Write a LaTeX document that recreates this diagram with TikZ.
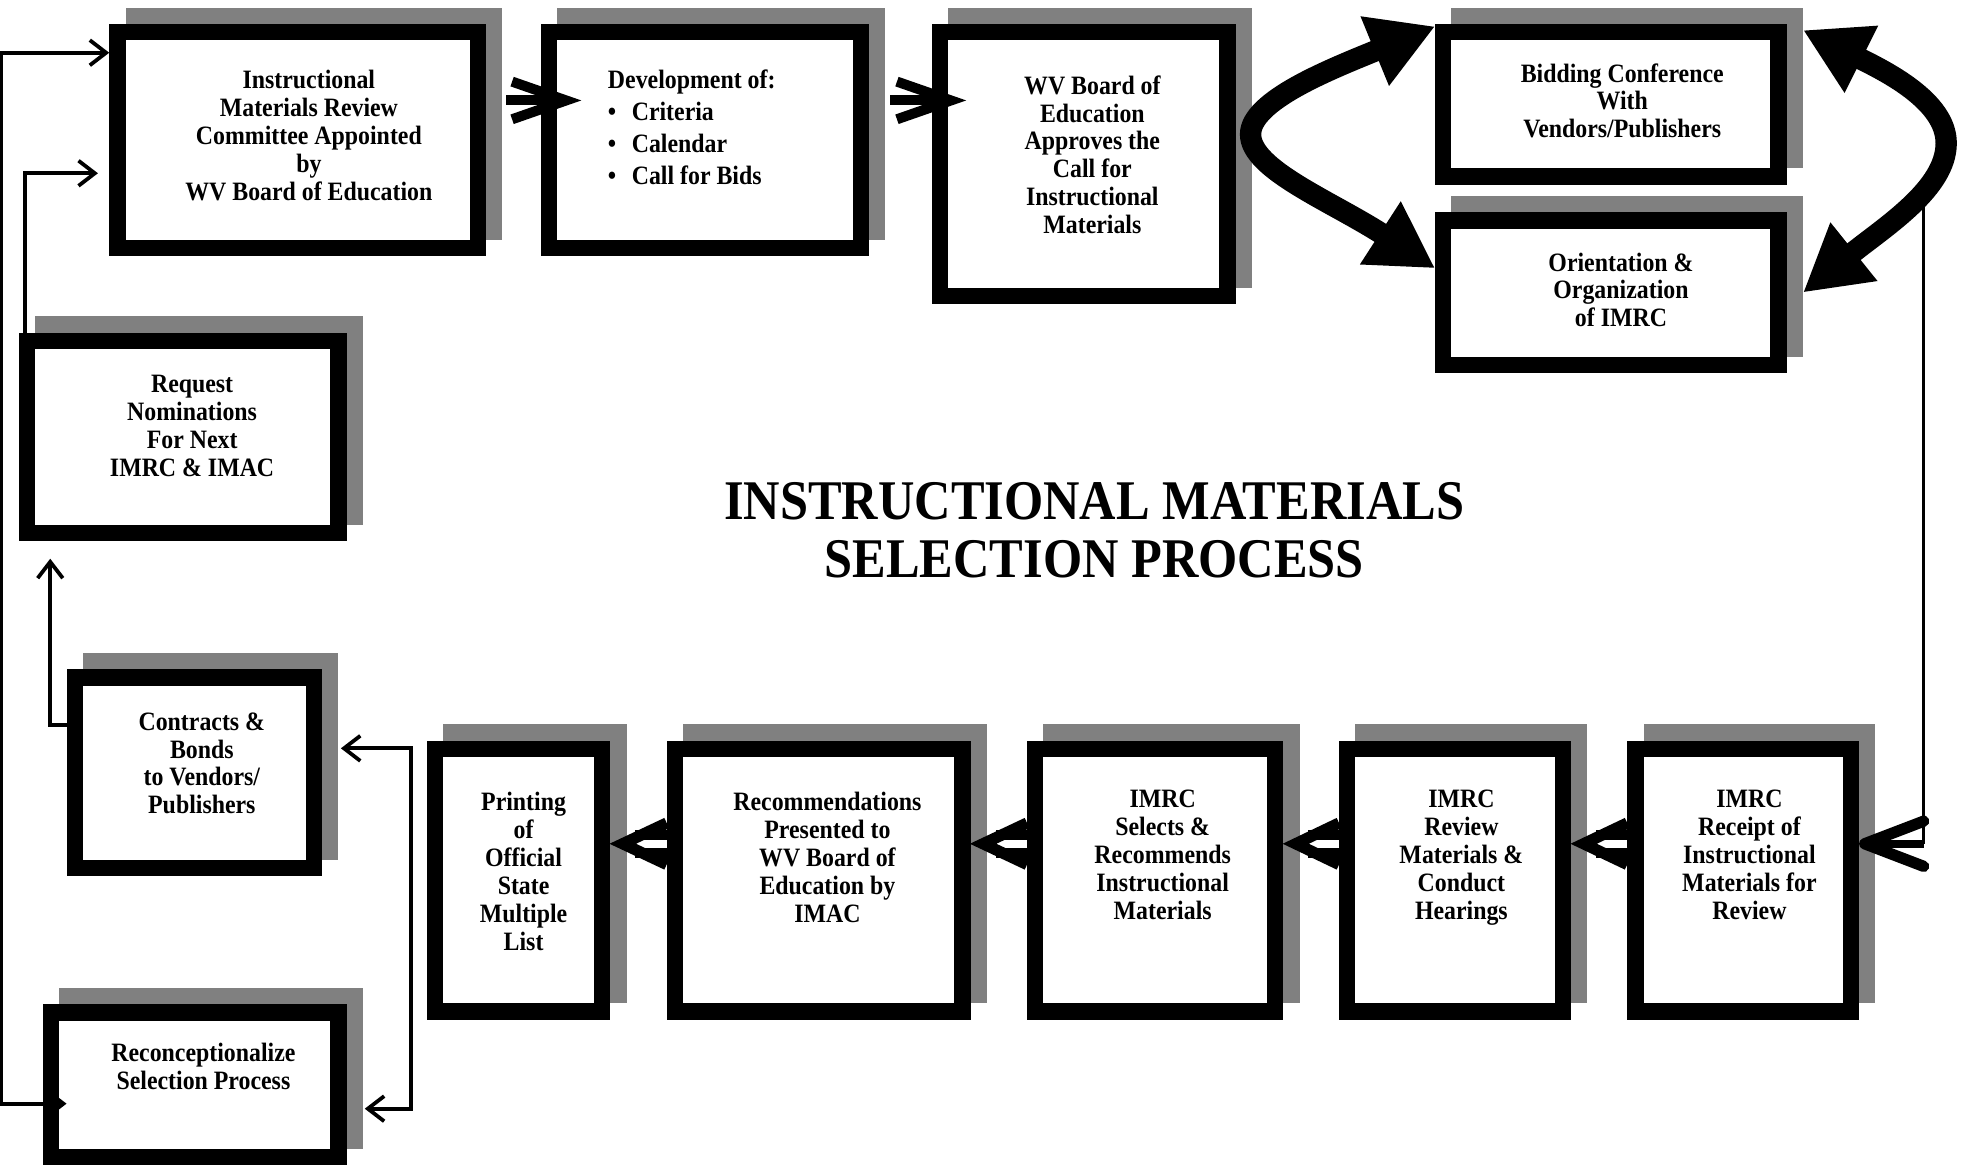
\documentclass[tikz,border=0pt]{standalone}
\usepackage{fontspec}
\setmainfont{Liberation Serif}[FakeStretch=0.9]
\usetikzlibrary{arrows.meta, positioning, shadows}
\definecolor{shadowgray}{RGB}{128,128,128}

\tikzset{
  pbox/.style={draw, fill=white, line width=13pt, inner sep=0pt, anchor=north west,
    general shadow={fill=shadowgray, draw=shadowgray, line width=13pt, shadow xshift=13pt, shadow yshift=13pt}},
  ptext/.style={font=\fontsize{21.1}{22.2}\selectfont\bfseries, align=center, inner sep=0pt},
  thinline/.style={line width=3pt, >={Straight Barb[length=13pt, width=20pt]}},
  fatarr/.style={line width=8pt, -{Straight Barb[length=43pt, width=30pt]}},
  rarr/.style={line width=6.6pt, -{Straight Barb[length=47pt, width=36pt, line width=9pt, round]}},
  dblshaft/.style={line width=8pt, double, double distance=6.5pt},
  barbs/.style={line width=9pt},
  bigcurve/.style={line width=17pt, {Triangle[length=52pt, width=56pt]}-{Triangle[length=52pt, width=56pt]}}
}

\begin{document}
\begin{tikzpicture}[x=1pt, y=-1pt]
\path[use as bounding box, fill=white] (0,0) rectangle (1565,930.2);

% top row
\node[pbox, minimum width=287pt, minimum height=172pt] (appoint) at (87,19) {};
\node[ptext, below=36.8pt of appoint.north, xshift=9pt] (appointtxt) {Instructional\\Materials Review\\Committee Appointed\\by\\WV Board of Education};
\node[pbox, minimum width=248pt, minimum height=172pt] (develop) at (431,19) {};
\node[ptext, align=left, font=\fontsize{21.1}{25.3}\selectfont\bfseries, below right=36.8pt and 53pt of develop.north west] (developtxt) {Development of:\\\makebox[19pt][l]{\textbullet}Criteria\\\makebox[19pt][l]{\textbullet}Calendar\\\makebox[19pt][l]{\textbullet}Call for Bids};
\node[pbox, minimum width=229pt, minimum height=210pt] (approve) at (742,19) {};
\node[ptext, below=41pt of approve.north, xshift=7pt] (approvetxt) {WV Board of\\Education\\Approves the\\Call for\\Instructional\\Materials};
\node[pbox, minimum width=267pt, minimum height=115pt] (bidding) at (1143,19) {};
\node[ptext, below=31.3pt of bidding.north, xshift=9pt] (biddingtxt) {Bidding Conference\\With\\Vendors/Publishers};
\node[pbox, minimum width=267pt, minimum height=115pt] (orient) at (1143,169) {};
\node[ptext, below=32pt of orient.north, xshift=8pt] (orienttxt) {Orientation \&\\Organization\\of IMRC};

% left column
\node[pbox, minimum width=248pt, minimum height=153pt] (request) at (15,265) {};
\node[ptext, below=33.7pt of request.north, xshift=7.5pt] (requesttxt) {Request\\Nominations\\For Next\\IMRC \& IMAC};
\node[pbox, minimum width=190.5pt, minimum height=152pt] (contract) at (53,533) {};
\node[ptext, below=34.3pt of contract.north, xshift=6pt] (contracttxt) {Contracts \&\\Bonds\\to Vendors/\\Publishers};
\node[pbox, minimum width=229pt, minimum height=115pt] (reconcept) at (34,800) {};
\node[ptext, below=30.4pt of reconcept.north, xshift=7pt] (reconcepttxt) {Reconceptionalize\\Selection Process};

% bottom row
\node[pbox, minimum width=133pt, minimum height=209pt] (printing) at (340,590) {};
\node[ptext, below=40.8pt of printing.north, xshift=4pt] (printingtxt) {Printing\\of\\Official\\State\\Multiple\\List};
\node[pbox, minimum width=229pt, minimum height=209pt] (recommend) at (531,590) {};
\node[ptext, below=40.8pt of recommend.north, xshift=7pt] (recommendtxt) {Recommendations\\Presented to\\WV Board of\\Education by\\IMAC};
\node[pbox, minimum width=191pt, minimum height=209pt] (selects) at (818,590) {};
\node[ptext, below=39.3pt of selects.north, xshift=6pt] (selectstxt) {IMRC\\Selects \&\\Recommends\\Instructional\\Materials};
\node[pbox, minimum width=171.8pt, minimum height=209pt] (review) at (1066.5,590) {};
\node[ptext, below=39.3pt of review.north, xshift=5pt] (reviewtxt) {IMRC\\Review\\Materials \&\\Conduct\\Hearings};
\node[pbox, minimum width=171.6pt, minimum height=209pt] (receipt) at (1296,590) {};
\node[ptext, below=39.3pt of receipt.north, xshift=5pt] (receipttxt) {IMRC\\Receipt of\\Instructional\\Materials for\\Review};

\node[font=\fontsize{44.6}{46}\selectfont\bfseries, align=center, inner sep=0pt, anchor=north] (title) at (871.5,384) {INSTRUCTIONAL MATERIALS\\SELECTION PROCESS};

% thin connectors
\coordinate (edge) at (0.8,460);
\coordinate (split) at (327.6,740);
\coordinate (rc) at (1532,152);
\coordinate (rd) at (1532,672);
\draw[thinline, <->] ([xshift=19pt, yshift=-15pt]reconcept.west) -| (edge) |- ([yshift=69.5pt]appoint.west);
\draw[thinline, ->] ([xshift=5pt]request.north west) |- ([xshift=-9pt, yshift=-26.5pt]appoint.west);
\draw[thinline, ->] ([yshift=38pt]contract.west) -| ([xshift=25pt, yshift=-14pt]request.south west);
\draw[thinline, ->] (split) |- ([xshift=15pt, yshift=19.5pt]contract.east);
\draw[thinline, ->] (split) |- ([xshift=14.5pt, yshift=-19pt]reconcept.east);
\draw[thinline] (rc) -- (rd);

% curved arrows
\draw[bigcurve] ([yshift=-2pt]bidding.north west) .. controls (1060,55) and (996,80) .. (996,107) .. controls (996,135) and (1060,160) .. ([yshift=-44.7pt]orient.north west);
\draw[bigcurve] ([xshift=13pt, yshift=-5pt]bidding.north east) .. controls (1500,56) and (1550,80) .. (1550,114) .. controls (1550,150) and (1502,180) .. ([xshift=13pt]orient.east);

% fat arrows
\draw[fatarr] ([xshift=16pt, yshift=-61pt]appoint.north east) -- ([xshift=32pt, yshift=-61pt]develop.north west);
\draw[fatarr] ([xshift=17pt, yshift=-61pt]develop.north east) -- ([xshift=27.5pt, yshift=-61pt]approve.north west);
\draw[rarr] (rd) -- ([yshift=29pt]receipt.east);
\foreach \a/\b in {receipt/review, review/selects, selects/recommend, recommend/printing} {
  \draw[dblshaft] ([yshift=29pt]\a.west) -- ([xshift=20pt, yshift=29pt]\b.east);
  \draw[barbs] ([yshift=45.5pt]\a.west) -- ([xshift=10pt, yshift=29pt]\b.east) -- ([yshift=12.5pt]\a.west);
}
\end{tikzpicture}
\end{document}
